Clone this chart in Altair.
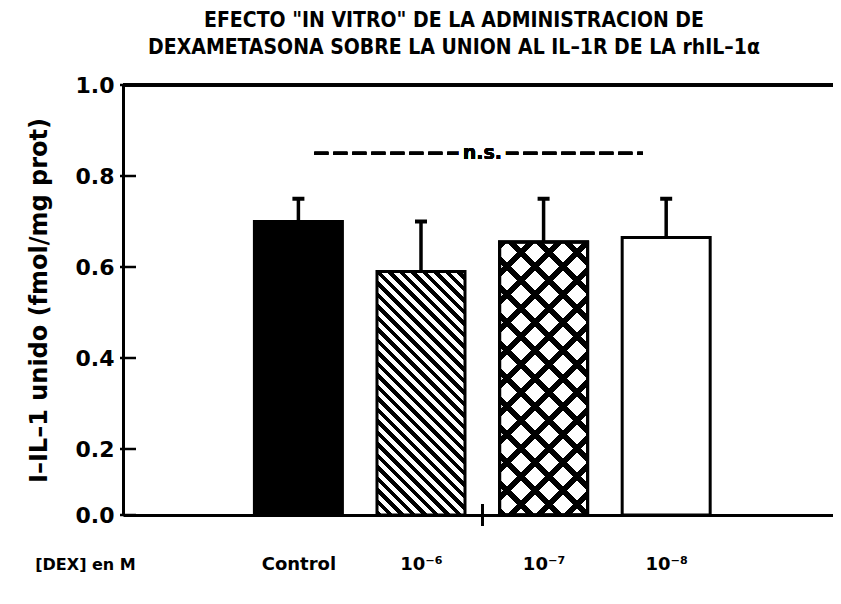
import json
import numpy as np
import pandas as pd
import altair as alt

# ---------------- data ----------------
title_lines = ['EFECTO "IN VITRO" DE LA ADMINISTRACION DE',
               'DEXAMETASONA SOBRE LA UNION AL IL–1R DE LA rhIL–1α']
categories = ["Control", "10⁻⁶", "10⁻⁷", "10⁻⁸"]
means = [0.70, 0.59, 0.655, 0.665]
sems = [0.05, 0.11, 0.095, 0.085]
y_ticks = [0.0, 0.2, 0.4, 0.6, 0.8, 1.0]
x_title = "[DEX] en M"
y_title = "I–IL–1 unido (fmol/mg prot)"
ns_label = "n.s."
ns_level = 0.85

# ---------------- layout / style ----------------
FONT = "DejaVu Sans"
TITLE_FONT = "DejaVu Sans Condensed, Liberation Sans Narrow, Liberation Sans, sans-serif"
PLOT_W, PLOT_H = 710, 430
Y_DOM = [0.0, 0.2, 1.0]
Y_RNG = [430, 364, 0]
X0, X1 = -0.39, 5.32
BAR_W = 88

pos = list(range(1, len(categories) + 1))
df = pd.DataFrame({
    "pos": pos,
    "cat": categories,
    "mean": means,
    "upper": [m + s for m, s in zip(means, sems)],
})

xs = alt.Scale(domain=[X0, X1], nice=False, zero=False)
ys = alt.Scale(domain=Y_DOM, range=Y_RNG, nice=False, zero=False)


def bar_height(v):
    return float(Y_RNG[0] - np.interp(v, Y_DOM, Y_RNG))


def stripes(w, h, period, thick, on, off, direction):
    total = w + h
    k = total / (w * w + h * h)
    if direction == "down":   # "\" stripes
        x1, y1, x2, y2 = 0, 1, k * w, 1 - k * h
    else:                     # "/" stripes
        x1, y1, x2, y2 = 0, 0, k * w, k * h
    stops = []
    s = 0.0
    while s < total:
        a = s / total
        b = min(s + thick, total) / total
        c = min(s + period, total) / total
        stops += [{"offset": a, "color": on}, {"offset": b, "color": on},
                  {"offset": b, "color": off}, {"offset": c, "color": off}]
        s += period
    return {"gradient": "linear", "x1": x1, "y1": y1, "x2": x2, "y2": y2,
            "stops": stops}


label_expr = json.dumps([""] + categories) + "[datum.value]"

x_axis = alt.Axis(values=pos, labelExpr=label_expr, ticks=False,
                  grid=False, domainWidth=3, domainColor="#000",
                  labelFont=FONT, labelFontSize=18,
                  labelFontWeight="bold", labelColor="#000",
                  labelPadding=40, labelFlush=False,
                  title=x_title, titleX=-38, titleY=41,
                  titleAlign="center", titleBaseline="top",
                  titleAngle=0, titleFont=FONT, titleFontSize=16,
                  titleFontWeight="bold", titleColor="#000")
y_axis = alt.Axis(values=y_ticks, format=".1f", ticks=False,
                  grid=False, domainWidth=3, domainColor="#000",
                  labelFont=FONT, labelFontSize=22,
                  labelFontWeight="bold", labelColor="#000",
                  labelPadding=9, title=y_title,
                  titleFont=FONT, titleFontSize=24,
                  titleFontWeight="bold", titleColor="#000",
                  titlePadding=24)

layers = []
for i, cat in enumerate(categories):
    sub = df.iloc[[i]]
    h = bar_height(means[i])
    if i == 0:
        fills = ["#000000"]
    elif i == 1:
        fills = [stripes(BAR_W, h, 11.5, 5.5, "#000000", "#ffffff", "down")]
    elif i == 2:
        fills = ["#ffffff",
                 stripes(BAR_W, h, 28, 8, "#000000", "transparent", "down"),
                 stripes(BAR_W, h, 28, 8, "#000000", "transparent", "up")]
    else:
        fills = ["#ffffff"]
    for j, f in enumerate(fills):
        if i == 0 and j == 0:
            xenc = alt.X("pos:Q", scale=xs, axis=x_axis)
            yenc = alt.Y("mean:Q", scale=ys, axis=y_axis)
        else:
            xenc = alt.X("pos:Q", scale=xs)
            yenc = alt.Y("mean:Q", scale=ys)
        layers.append(
            alt.Chart(sub).mark_bar(size=BAR_W, fill=f, stroke="#000",
                                    strokeWidth=3, opacity=1).encode(x=xenc, y=yenc))

# error bars (upper only) with caps
err_rule = alt.Chart(df).mark_rule(color="#000", strokeWidth=3.5, opacity=1).encode(
    x=alt.X("pos:Q", scale=xs),
    y=alt.Y("mean:Q", scale=ys),
    y2="upper:Q")
err_cap = alt.Chart(df).mark_tick(color="#000", orient="horizontal", size=12,
                                  thickness=4, opacity=1).encode(
    x=alt.X("pos:Q", scale=xs),
    y=alt.Y("upper:Q", scale=ys))

# crossing ticks on the y axis
tick_df = pd.DataFrame({"v": y_ticks})
y_cross = alt.Chart(tick_df).mark_tick(color="#000", orient="horizontal",
                                       size=16, thickness=2.5, opacity=1).encode(
    x=alt.XDatum(X0, type="quantitative", scale=xs),
    y=alt.Y("v:Q", scale=ys))

# stray "+" tick on the x axis between the 2nd and 3rd bars
x_plus = alt.Chart(tick_df).mark_tick(color="#000", orient="vertical", size=22,
                                      thickness=2.5, opacity=1).encode(
    x=alt.XDatum(2.5, type="quantitative", scale=xs),
    y=alt.YDatum(0.0, type="quantitative", scale=ys))

# top frame line at 1.0
top_line = alt.Chart(tick_df).mark_rule(color="#000", strokeWidth=3).encode(
    y=alt.YDatum(1.0, type="quantitative", scale=ys))

# n.s. dashed bracket
ns_line = alt.Chart(tick_df).mark_rule(color="#000", strokeWidth=3,
                                       strokeDash=[14, 5]).encode(
    x=alt.XDatum(1.13, type="quantitative", scale=xs),
    x2=alt.X2Datum(3.81),
    y=alt.YDatum(ns_level, type="quantitative", scale=ys))
ns_knock = alt.Chart(tick_df).mark_text(font=FONT, fontSize=19, fontWeight="bold",
                                        color="#fff", stroke="#fff",
                                        strokeWidth=10).encode(
    x=alt.XDatum(2.5, type="quantitative", scale=xs),
    y=alt.YDatum(ns_level, type="quantitative", scale=ys),
    text=alt.value(ns_label))
ns_text = alt.Chart(tick_df).mark_text(font=FONT, fontSize=19, fontWeight="bold",
                                       color="#000").encode(
    x=alt.XDatum(2.5, type="quantitative", scale=xs),
    y=alt.YDatum(ns_level, type="quantitative", scale=ys),
    text=alt.value(ns_label))

chart = alt.layer(*layers, err_rule, err_cap, y_cross, x_plus, top_line,
                  ns_line, ns_knock, ns_text).properties(
    width=PLOT_W, height=PLOT_H,
    autosize=alt.AutoSizeParams(type="none"),
    padding={"left": 115, "top": 77, "right": 0, "bottom": 80},
    title=alt.TitleParams(text=title_lines, anchor="middle", dx=-24, offset=16,
                          font=TITLE_FONT, fontSize=21, fontWeight="bold",
                          color="#000", lineHeight=27),
    background="#ffffff",
).configure_view(strokeWidth=0)

chart.save("out.html", embed_options={"renderer": "svg", "actions": False})
